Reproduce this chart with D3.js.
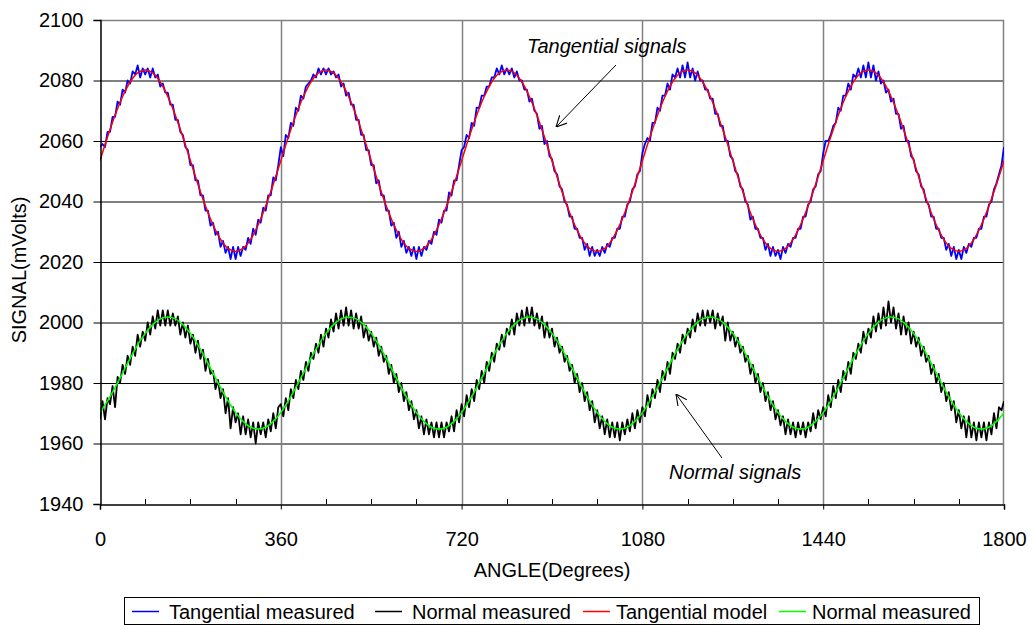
<!DOCTYPE html>
<html><head><meta charset="utf-8">
<script src="https://cdn.jsdelivr.net/npm/d3@7"></script>
<style>body{margin:0;background:#fff}svg{display:block;font-family:Arial,"Liberation Sans",sans-serif}</style>
</head><body><svg id="c" width="1034" height="626"></svg>
<script>
// ---- data ----
const xTicks = [0, 360, 720, 1080, 1440, 1800];
const yTicks = [1940, 1960, 1980, 2000, 2020, 2040, 2060, 2080, 2100];
const seriesNames = ["Tangential measured", "Normal measured", "Tangential model", "Normal measured"];
const measuredStep = 5;   // degrees between measured samples
const modelStep = 15;     // degrees between model samples

const tangentialMeasured = [
2058,2059,2058,2063,2063,2068,2068,2073,2072,2077,2076,2080,2079,2083,2082,2085,2081,2084,2082,2084,2081,2084,2081,2082,2078,2079,2076,2076,2072,2072,2067,2067,2063,2062,2058,2057,2052,2052,2047,2047,2042,2042,2037,2037,2032,2033,2029,2030,2025,2027,2023,2025,2021,2025,2021,2025,2022,2025,2024,2028,2026,2031,2029,2034,2033,2038,2037,2042,2042,2048,2047,2052,
2058,2055,2062,2061,2066,2065,2071,2070,2075,2074,2078,2079,2080,2082,2081,2084,2082,2084,2082,2084,2082,2083,2081,2082,2078,2079,2075,2076,2072,2072,2067,2067,2062,2062,2057,2057,2052,2052,2046,2047,2042,2042,2037,2037,2032,2033,2028,2030,2025,2027,2023,2025,2022,2025,2021,2025,2022,2025,2024,2027,2026,2030,2029,2034,2033,2037,2037,2043,2042,2047,2047,2052,
2057,2058,2062,2061,2066,2065,2071,2071,2075,2075,2078,2078,2081,2081,2084,2082,2085,2082,2084,2082,2084,2081,2083,2080,2080,2077,2077,2073,2074,2070,2069,2064,2065,2059,2060,2055,2054,2050,2049,2045,2044,2040,2039,2035,2035,2031,2031,2028,2028,2024,2026,2022,2025,2022,2024,2022,2025,2023,2026,2025,2028,2028,2031,2031,2035,2035,2039,2040,2044,2045,2049,2050,
2056,2059,2061,2060,2066,2066,2071,2070,2075,2075,2079,2077,2082,2081,2084,2081,2085,2081,2086,2081,2084,2080,2083,2080,2080,2077,2077,2074,2074,2069,2069,2065,2065,2060,2060,2055,2054,2050,2049,2045,2044,2040,2039,2034,2035,2031,2031,2028,2028,2024,2026,2022,2025,2022,2024,2021,2025,2023,2026,2025,2028,2028,2031,2031,2035,2035,2039,2040,2044,2045,2049,2050,
2056,2060,2060,2062,2065,2066,2071,2070,2075,2075,2079,2077,2082,2081,2084,2081,2085,2081,2086,2081,2085,2080,2083,2079,2080,2076,2077,2073,2074,2069,2069,2064,2065,2060,2060,2055,2054,2050,2049,2045,2044,2040,2039,2035,2035,2031,2031,2028,2028,2024,2026,2022,2025,2021,2024,2021,2025,2023,2026,2025,2028,2028,2031,2031,2035,2035,2039,2040,2044,2046,2049,2052,
2058];

const normalMeasured = [
1968,1974,1968,1975,1973,1979,1972,1982,1980,1986,1983,1989,1986,1992,1989,1996,1992,1997,1994,2000,1996,2002,1998,2004,1999,2004,1999,2004,1999,2003,1999,2002,1996,2000,1995,1999,1993,1996,1990,1994,1988,1991,1984,1988,1983,1984,1978,1981,1975,1978,1970,1975,1965,1972,1967,1970,1963,1969,1963,1968,1962,1967,1960,1967,1963,1967,1962,1968,1964,1970,1965,1972,
1973,1969,1975,1971,1978,1975,1981,1978,1984,1981,1987,1984,1990,1988,1993,1990,1996,1992,1998,1995,2001,1997,2003,1998,2004,1999,2005,1999,2004,1998,2003,1998,2002,1995,1999,1994,1997,1992,1995,1989,1992,1987,1989,1983,1986,1980,1983,1977,1980,1974,1977,1971,1974,1968,1971,1965,1969,1963,1968,1963,1967,1962,1967,1962,1967,1962,1967,1964,1969,1964,1971,1967,
1973,1969,1976,1972,1978,1974,1981,1978,1984,1980,1987,1984,1990,1987,1993,1991,1996,1992,1998,1996,2001,1996,2003,1999,2004,1999,2005,2000,2005,1999,2003,1998,2002,1995,2000,1995,1998,1992,1995,1990,1992,1987,1989,1984,1986,1980,1983,1977,1980,1974,1977,1971,1974,1967,1971,1965,1969,1963,1968,1962,1967,1962,1967,1961,1967,1963,1968,1964,1970,1965,1971,1967,
1972,1969,1976,1972,1978,1975,1981,1977,1984,1981,1987,1983,1990,1988,1993,1990,1996,1993,1998,1995,2001,1997,2003,1999,2004,1999,2004,2000,2004,1998,2003,1999,2002,1994,2000,1994,1997,1992,1995,1990,1992,1987,1989,1983,1986,1980,1983,1977,1980,1974,1977,1971,1974,1968,1971,1966,1969,1963,1968,1963,1967,1962,1967,1963,1967,1962,1967,1964,1970,1965,1971,1968,
1972,1969,1976,1972,1979,1975,1981,1977,1984,1981,1987,1983,1990,1988,1993,1990,1997,1993,1998,1995,2002,1997,2003,1998,2005,1999,2007,2000,2005,1998,2003,1996,2002,1996,2000,1993,1997,1992,1995,1989,1992,1987,1989,1983,1986,1980,1983,1977,1980,1974,1977,1971,1974,1967,1971,1965,1969,1962,1969,1962,1967,1961,1967,1962,1967,1961,1967,1963,1970,1965,1972,1971,
1974];

const tangentialModel = [
2053.5,2061.3,2068.5,2074.7,2079.5,2082.5,2083.5,2082.5,2079.5,2074.7,2068.5,2061.3,2053.5,2045.7,2038.5,2032.3,2027.5,2024.5,2023.5,2024.5,2027.5,2032.3,2038.5,2045.7,
2053.5,2061.3,2068.5,2074.7,2079.5,2082.5,2083.5,2082.5,2079.5,2074.7,2068.5,2061.3,2053.5,2045.7,2038.5,2032.3,2027.5,2024.5,2023.5,2024.5,2027.5,2032.3,2038.5,2045.7,
2053.5,2061.3,2068.5,2074.7,2079.5,2082.5,2083.5,2082.5,2079.5,2074.7,2068.5,2061.3,2053.5,2045.7,2038.5,2032.3,2027.5,2024.5,2023.5,2024.5,2027.5,2032.3,2038.5,2045.7,
2053.5,2061.3,2068.5,2074.7,2079.5,2082.5,2083.5,2082.5,2079.5,2074.7,2068.5,2061.3,2053.5,2045.7,2038.5,2032.3,2027.5,2024.5,2023.5,2024.5,2027.5,2032.3,2038.5,2045.7,
2053.5,2061.3,2068.5,2074.7,2079.5,2082.5,2083.5,2082.5,2079.5,2074.7,2068.5,2061.3,2053.5,2045.7,2038.5,2032.3,2027.5,2024.5,2023.5,2024.5,2027.5,2032.3,2038.5,2045.7,
2053.5];

const normalModel = [
1970.2,1974.1,1978.5,1983.3,1988.1,1992.6,1996.4,1999.3,2001.2,2001.8,2001.2,1999.3,1996.4,1992.6,1988.1,1983.3,1978.5,1974.1,1970.2,1967.3,1965.4,1964.8,1965.4,1967.3,
1970.2,1974.1,1978.5,1983.3,1988.1,1992.6,1996.4,1999.3,2001.2,2001.8,2001.2,1999.3,1996.4,1992.6,1988.1,1983.3,1978.5,1974.1,1970.2,1967.3,1965.4,1964.8,1965.4,1967.3,
1970.2,1974.1,1978.5,1983.3,1988.1,1992.6,1996.4,1999.3,2001.2,2001.8,2001.2,1999.3,1996.4,1992.6,1988.1,1983.3,1978.5,1974.1,1970.2,1967.3,1965.4,1964.8,1965.4,1967.3,
1970.2,1974.1,1978.5,1983.3,1988.1,1992.6,1996.4,1999.3,2001.2,2001.8,2001.2,1999.3,1996.4,1992.6,1988.1,1983.3,1978.5,1974.1,1970.2,1967.3,1965.4,1964.8,1965.4,1967.3,
1970.2,1974.1,1978.5,1983.3,1988.1,1992.6,1996.4,1999.3,2001.2,2001.8,2001.2,1999.3,1996.4,1992.6,1988.1,1983.3,1978.5,1974.1,1970.2,1967.3,1965.4,1964.8,1965.4,1967.3,
1970.2];

// ---- layout ----
const L = 100, R = 1004, T = 20, B = 504;
const FS = 20;
const svg = d3.select("#c");
const x = d3.scaleLinear().domain([0, 1800]).range([L, R]);
const y = d3.scaleLinear().domain([1940, 2100]).range([B, T]);

// horizontal gridlines
svg.append("g").selectAll("line").data(yTicks.slice(1, -1)).join("line")
  .attr("x1", L).attr("x2", R).attr("y1", d => y(d) + 0.5).attr("y2", d => y(d) + 0.5)
  .attr("stroke", "#000").attr("stroke-width", 1);
// vertical gridlines
svg.append("g").selectAll("line").data(xTicks.slice(1, -1)).join("line")
  .attr("y1", T).attr("y2", B).attr("x1", d => Math.round(x(d)) + 0.5).attr("x2", d => Math.round(x(d)) + 0.5)
  .attr("stroke", "#808080").attr("stroke-width", 1.5);
// plot border (top/right)
svg.append("path").attr("d", `M${L},${T + 0.5}H${R - 0.5}V${B}`).attr("fill", "none").attr("stroke", "#808080").attr("stroke-width", 1.5);

// series
svg.append("clipPath").attr("id", "pc").append("rect").attr("x", L).attr("y", T).attr("width", R - L).attr("height", B - T);
const gS = svg.append("g").attr("clip-path", "url(#pc)");
function draw(vals, step, color, w, curve) {
  const pts = vals.map((v, i) => [i * step, v]);
  const ln = d3.line().x(d => x(d[0])).y(d => y(d[1]));
  if (curve) ln.curve(curve);
  gS.append("path").datum(pts).attr("d", ln).attr("fill", "none").attr("stroke", color).attr("stroke-width", w).attr("stroke-linejoin", "round");
}
draw(tangentialMeasured, measuredStep, "#0000ff", 1.8);
draw(normalMeasured, measuredStep, "#000000", 1.8);
draw(tangentialModel, modelStep, "#ff0000", 1.5, d3.curveCatmullRom);
draw(normalModel, modelStep, "#00ff00", 1.6, d3.curveCatmullRom);

// axes
const yAxis = d3.axisLeft(y).tickValues(yTicks).tickSize(7).tickPadding(10).tickFormat(d3.format("d"));
const gy = svg.append("g").attr("transform", `translate(${L + 0.5},0)`).call(yAxis);
gy.select(".domain").attr("stroke", "#000").attr("stroke-width", 1.5);
gy.selectAll("text").attr("font-size", FS).attr("fill", "#000").attr("font-family", "Arial, 'Liberation Sans', sans-serif");

const xAxis = d3.axisBottom(x).tickValues(xTicks).tickSize(5).tickPadding(22).tickFormat(d3.format("d"));
const gx = svg.append("g").attr("transform", `translate(0,${B + 0.5})`).call(xAxis);
gx.select(".domain").attr("stroke", "#000").attr("stroke-width", 1.5);
gx.selectAll("text").attr("font-size", FS).attr("fill", "#000").attr("font-family", "Arial, 'Liberation Sans', sans-serif")
  .attr("dy", null).attr("y", 41);
// minor ticks every 90 degrees (inside)
svg.append("g").selectAll("line").data(d3.range(90, 1800, 90).filter(d => d % 360 !== 0)).join("line")
  .attr("x1", d => Math.round(x(d)) + 0.5).attr("x2", d => Math.round(x(d)) + 0.5).attr("y1", B).attr("y2", B - 5)
  .attr("stroke", "#000").attr("stroke-width", 1);

// axis titles
svg.append("text").attr("x", 552).attr("y", 577).attr("text-anchor", "middle").attr("font-size", FS).text("ANGLE(Degrees)");
svg.append("text").attr("transform", `translate(26,270) rotate(-90)`).attr("text-anchor", "middle").attr("font-size", FS).text("SIGNAL(mVolts)");

// annotations
const defs = svg.append("defs");
defs.append("marker").attr("id", "ah").attr("viewBox", "0 0 10 10").attr("refX", 10).attr("refY", 5)
  .attr("markerWidth", 11).attr("markerHeight", 11).attr("orient", "auto").attr("markerUnits", "userSpaceOnUse")
  .append("path").attr("d", "M0,0L10,5L0,10").attr("fill", "none").attr("stroke", "#000").attr("stroke-width", 1);
svg.append("line").attr("x1", 616).attr("y1", 65).attr("x2", 556).attr("y2", 127).attr("stroke", "#000").attr("stroke-width", 1).attr("marker-end", "url(#ah)");
svg.append("line").attr("x1", 722).attr("y1", 458).attr("x2", 676).attr("y2", 394).attr("stroke", "#000").attr("stroke-width", 1).attr("marker-end", "url(#ah)");
svg.append("text").attr("x", 527).attr("y", 53).attr("font-size", FS).attr("font-style", "italic").text("Tangential signals");
svg.append("text").attr("x", 669).attr("y", 479).attr("font-size", FS).attr("font-style", "italic").text("Normal signals");

// legend
const lg = svg.append("g");
lg.append("rect").attr("x", 124.5).attr("y", 597.5).attr("width", 855).attr("height", 27).attr("fill", "#fff").attr("stroke", "#000").attr("stroke-width", 1);
const legendColors = ["#0000ff", "#000000", "#ff0000", "#00ff00"];
const legendLineX = [132, 375, 583, 779];
const legendTextX = [169, 412, 616, 812];
seriesNames.forEach((n, i) => {
  lg.append("line").attr("x1", legendLineX[i]).attr("x2", legendLineX[i] + 27).attr("y1", 611.5).attr("y2", 611.5).attr("stroke", legendColors[i]).attr("stroke-width", 1.5);
  lg.append("text").attr("x", legendTextX[i]).attr("y", 619).attr("font-size", FS).text(n);
});
</script></body></html>
